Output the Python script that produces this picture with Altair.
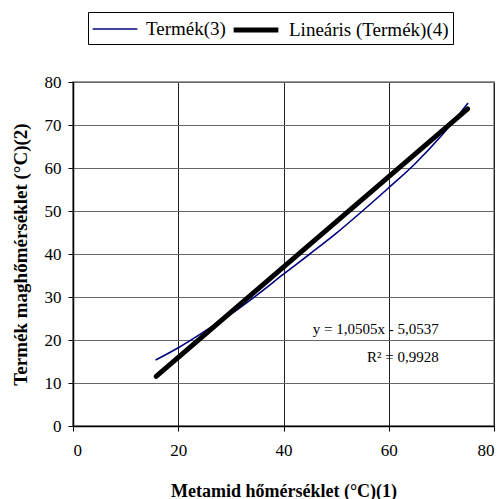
import altair as alt
import pandas as pd

# Measured series (Termék)
x_vals = [15.8, 20, 25, 30, 35, 40, 45, 50, 55, 60, 65, 70, 75]
y_vals = [15.4, 18.2, 22.0, 26.0, 30.5, 35.3, 40.0, 44.8, 50.0, 55.4, 61.0, 67.5, 75.0]

# Linear trend y = 1,0505x - 5,0537
slope = 1.0505
intercept = -5.0537
trend_x = [15.8, 75]

series_names = ["Termék(3)", "Lineáris (Termék)(4)"]
annot_text = ["y = 1,0505x - 5,0537", "R² = 0,9928"]
annot_x = [69.5, 69.5]
annot_y = [22.6, 16.0]

font = "Liberation Serif"

df_data = pd.DataFrame({"x": x_vals, "y": y_vals, "s": series_names[0], "o": list(range(len(x_vals)))})
df_trend = pd.DataFrame({"x": trend_x, "y": [slope * v + intercept for v in trend_x], "s": series_names[1], "o": [0, 1]})
df = pd.concat([df_data, df_trend])

color_scale = alt.Scale(domain=series_names, range=["#000080", "#000000"])
width_scale = alt.Scale(domain=series_names, range=[1.6, 5])

xs = alt.Scale(domain=[0, 80], nice=False)
ys = alt.Scale(domain=[0, 80], nice=False)

lines = alt.Chart(df).mark_line(interpolate="monotone", strokeCap="round").encode(
    x=alt.X("x:Q", scale=xs, axis=alt.Axis(values=[0, 20, 40, 60, 80], title="Metamid hőmérséklet (°C)(1)",
                                          grid=True, gridColor="#222", gridWidth=1, titlePadding=24,
                                          labelPadding=11, titleFontSize=18)),
    y=alt.Y("y:Q", scale=ys, axis=alt.Axis(values=list(range(0, 81, 10)), title="Termék maghőmérséklet (°C)(2)",
                                          grid=True, gridColor="#666", gridWidth=1.2, titlePadding=14,
                                          labelPadding=7, titleFontSize=19)),
    color=alt.Color("s:N", scale=color_scale, sort=series_names,
                    legend=alt.Legend(title=None, orient="none", legendX=15, legendY=-70, direction="horizontal",
                                      symbolType="M-2,0H2", symbolSize=500, labelFont=font, labelFontSize=19,
                                      labelColor="black", strokeColor="black", padding=4, columnPadding=-3,
                                      symbolOffset=11, labelOffset=19)),
    strokeWidth=alt.StrokeWidth("s:N", scale=width_scale, sort=series_names, legend=alt.Legend(title=None)),
    order="o:Q",
)

annot = alt.Chart(pd.DataFrame({"x": annot_x, "y": annot_y, "t": annot_text})).mark_text(
    font=font, fontSize=15, align="right", color="black"
).encode(x=alt.X("x:Q", scale=xs), y=alt.Y("y:Q", scale=ys), text="t:N")

chart = alt.layer(lines, annot).properties(
    width=421, height=344,
    padding={"left": 73, "top": 82, "right": 9, "bottom": 73},
    autosize=alt.AutoSizeParams(type="none"),
    background="white",
).configure_view(stroke="#999", strokeWidth=2).configure_axis(
    labelFont=font, labelFontSize=17, labelColor="black", titleFont=font,
    titleFontWeight="bold", titleColor="black", domainColor="black", domainWidth=1.5,
    tickColor="black", tickSize=5,
)

chart.save("out.html", embed_options={"renderer": "svg", "actions": False})
